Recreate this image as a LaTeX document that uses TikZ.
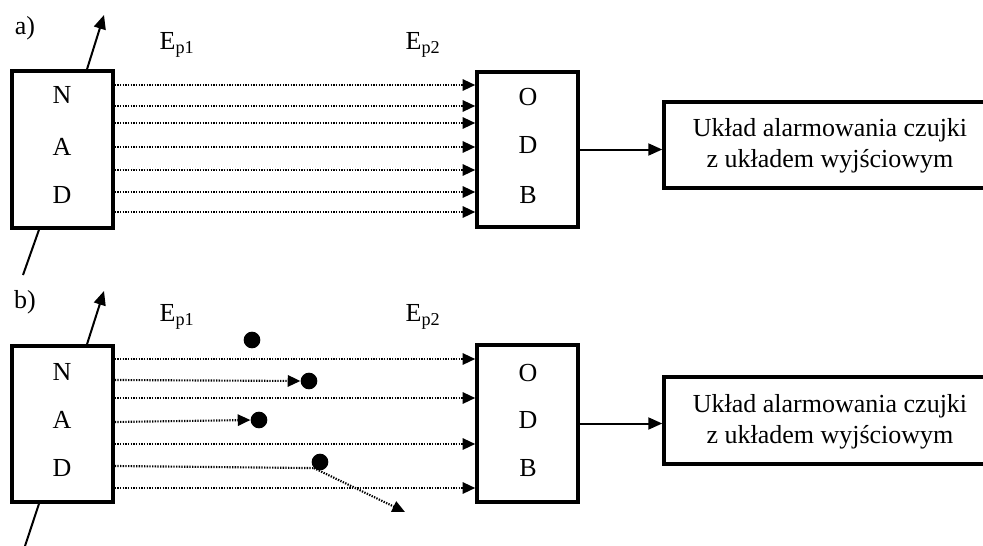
\documentclass[tikz,border=0pt]{standalone}
\usepackage{fontspec}
\setmainfont{Liberation Serif}
\usetikzlibrary{arrows.meta}
\begin{document}
\begin{tikzpicture}[x=0.75pt,y=-0.75pt,
  blok/.style={draw=black,line width=2.6pt,fill=white,inner sep=0pt},
  litera/.style={font=\fontsize{19.5}{22}\selectfont,inner sep=0pt},
  tekst/.style={font=\fontsize{19.5}{23}\selectfont,align=center,inner sep=0pt},
  etykieta/.style={font=\fontsize{19.5}{22}\selectfont,inner sep=0pt},
  kropki/.style={line width=1.6pt,dash pattern=on 1pt off 1pt,-{Triangle[length=9.5pt,width=8.5pt]}},
  kropkibez/.style={line width=1.6pt,dash pattern=on 1pt off 1pt},
  strzalka/.style={line width=1.5pt,-{Triangle[length=10.5pt,width=9pt]}},
  linia/.style={line width=1.5pt},
  kulka/.style={circle,fill=black,minimum size=12.5pt,inner sep=0pt}
]
\useasboundingbox (0,0) rectangle (983,546);

% ---------- a) ----------
\node[etykieta] (la) at (25,28) {a)};
\node[etykieta] (ep1a) at (177,45) {E\textsubscript{p1}};
\node[etykieta] (ep2a) at (423,45) {E\textsubscript{p2}};

\node[blok,minimum width=75.75pt,minimum height=117.75pt] (nada) at (62.5,149.5) {};
\node[litera] (na) at (62,95) {N};
\node[litera] (aa) at (62,147) {A};
\node[litera] (da) at (62,195) {D};

\node[blok,minimum width=75.75pt,minimum height=116.25pt] (odba) at (527.5,149.5) {};
\node[litera] (oa) at (528,97) {O};
\node[litera] (d2a) at (528,145) {D};
\node[litera] (ba) at (528,195) {B};

\node[blok,minimum width=243pt,minimum height=64.5pt] (ala) at (826,145) {};
\node[tekst] (alta) at (830,146) {Układ alarmowania czujki\\z układem wyjściowym};

\coordinate (upa) at (104,15);
\coordinate (dna) at (23,275);
\draw[strzalka] (nada.north -| 87,0) -- (upa);
\draw[linia] (nada.south -| 39,0) -- (dna);

\foreach \yy in {85,106,123,147,170,192,212}{
  \draw[kropki] (nada.east |- 0,\yy) -- (odba.west |- 0,\yy);
}
\draw[strzalka] (odba.east) -- (ala.west |- odba.east);

% ---------- b) ----------
\node[etykieta] (lb) at (25,302) {b)};
\node[etykieta] (ep1b) at (177,317) {E\textsubscript{p1}};
\node[etykieta] (ep2b) at (423,317) {E\textsubscript{p2}};

\node[blok,minimum width=75.75pt,minimum height=117pt] (nadb) at (62.5,424) {};
\node[litera] (nb) at (62,372) {N};
\node[litera] (ab) at (62,420) {A};
\node[litera] (db) at (62,468) {D};

\node[blok,minimum width=75.75pt,minimum height=117.75pt] (odbb) at (527.5,423.5) {};
\node[litera] (ob) at (528,373) {O};
\node[litera] (d2b) at (528,420) {D};
\node[litera] (bb) at (528,468) {B};

\node[blok,minimum width=243pt,minimum height=65.25pt] (alb) at (826,420.5) {};
\node[tekst] (altb) at (830,422) {Układ alarmowania czujki\\z układem wyjściowym};

\coordinate (upb) at (104,291);
\coordinate (dnb) at (25,546);
\draw[strzalka] (nadb.north -| 87,0) -- (upb);
\draw[linia] (nadb.south -| 39,0) -- (dnb);

\node[kulka] (k1) at (252,340) {};
\node[kulka] (k2) at (309,381) {};
\node[kulka] (k3) at (259,420) {};
\node[kulka] (k4) at (320,462) {};
\coordinate (odl) at (405,512);

\foreach \yy in {359,398,444,488}{
  \draw[kropki] (nadb.east |- 0,\yy) -- (odbb.west |- 0,\yy);
}
\draw[kropki] (nadb.east |- 0,380) -- (k2.west);
\draw[kropki] (nadb.east |- 0,422) -- (k3.west);
\draw[kropkibez] (nadb.east |- 0,466) -- (k4.south west);
\draw[kropki] (k4.south west) -- (odl);

\draw[strzalka] (odbb.east) -- (alb.west |- odbb.east);
\end{tikzpicture}
\end{document}
